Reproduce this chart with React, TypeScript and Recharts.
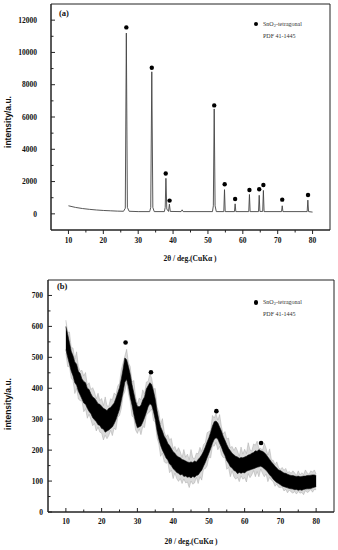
import React from "react";
import { ComposedChart, Line, Area, XAxis, YAxis, ReferenceArea } from "recharts";

// panel (a): crystalline SnO2 pattern
const aTheta = [10, 12, 14, 16, 18, 20, 22, 24, 25.8, 26.3, 26.6, 26.9, 27.4, 30, 33.3, 33.6, 33.9, 34.2, 34.6,
  37.5, 37.75, 37.95, 38.2, 38.7, 38.95, 39.2, 42.3, 42.6, 42.9, 51.3, 51.55, 51.8, 52.05, 52.4,
  54.55, 54.75, 54.95, 57.6, 57.8, 58.0, 61.7, 61.9, 62.1, 64.5, 64.7, 64.9, 65.7, 65.9, 66.1,
  71.1, 71.3, 71.5, 78.45, 78.65, 78.85, 80];
const aIntensity = [500, 400, 330, 280, 240, 210, 190, 170, 160, 350, 11200, 400, 160, 140, 140, 400, 8800, 400, 140,
  140, 400, 2200, 300, 150, 600, 150, 140, 250, 140, 140, 500, 6500, 500, 140,
  140, 1500, 140, 140, 620, 140, 140, 1200, 140, 140, 1150, 150, 150, 1450, 140,
  140, 500, 140, 140, 850, 140, 110];
const aPeakTheta = [26.6, 33.9, 37.9, 39.0, 51.8, 54.8, 57.8, 61.9, 64.7, 65.9, 71.3, 78.7];
const aPeakIntensity = [11550, 9050, 2500, 820, 6720, 1830, 920, 1480, 1520, 1790, 880, 1170];

// panel (b): nanocrystalline pattern, noisy band (core low/high + outer spikes)
const bTheta = [10, 10.5, 11, 11.5, 12, 12.5, 13, 13.5, 14, 14.5, 15, 15.5, 16, 16.5, 17, 17.5, 18, 18.5, 19, 19.5,
  20, 20.5, 21, 21.5, 22, 22.5, 23, 23.5, 24, 24.5, 25, 25.5, 26, 26.5, 27, 27.5, 28, 28.5, 29, 29.5,
  30, 30.5, 31, 31.5, 32, 32.5, 33, 33.5, 34, 34.5, 35, 35.5, 36, 36.5, 37, 37.5, 38, 38.5, 39, 39.5,
  40, 40.5, 41, 41.5, 42, 42.5, 43, 43.5, 44, 44.5, 45, 45.5, 46, 46.5, 47, 47.5, 48, 48.5, 49, 49.5,
  50, 50.5, 51, 51.5, 52, 52.5, 53, 53.5, 54, 54.5, 55, 55.5, 56, 56.5, 57, 57.5, 58, 58.5, 59, 59.5,
  60, 60.5, 61, 61.5, 62, 62.5, 63, 63.5, 64, 64.5, 65, 65.5, 66, 66.5, 67, 67.5, 68, 68.5, 69, 69.5,
  70, 70.5, 71, 71.5, 72, 72.5, 73, 73.5, 74, 74.5, 75, 75.5, 76, 76.5, 77, 77.5, 78, 78.5, 79, 79.5, 80];
const bLow = [525, 500, 478, 455, 440, 418, 410, 390, 378, 365, 352, 348, 335, 325, 318, 305, 298, 292, 282, 280,
  270, 268, 258, 262, 265, 270, 275, 285, 298, 315, 332, 360, 388, 420, 428, 405, 372, 345, 315, 290,
  272, 275, 278, 290, 305, 322, 340, 350, 345, 325, 298, 262, 235, 215, 200, 188, 175, 168, 155, 150,
  140, 135, 128, 125, 120, 122, 115, 116, 112, 114, 110, 115, 112, 118, 120, 128, 135, 148, 160, 175,
  190, 205, 222, 235, 240, 236, 222, 210, 194, 182, 166, 158, 146, 142, 134, 132, 124, 128, 125, 128,
  126, 132, 134, 136, 138, 140, 142, 145, 146, 148, 145, 140, 135, 128, 120, 114, 106, 100, 95, 92,
  88, 84, 82, 80, 78, 76, 75, 74, 72, 73, 70, 72, 70, 73, 74, 75, 75, 76, 78, 80, 82];
const bHigh = [600, 575, 548, 520, 505, 485, 478, 455, 448, 430, 422, 418, 400, 396, 382, 372, 368, 360, 350, 348,
  342, 335, 332, 328, 335, 338, 345, 352, 368, 385, 402, 430, 462, 498, 492, 470, 445, 412, 385, 358,
  342, 340, 345, 362, 372, 398, 408, 418, 412, 392, 365, 328, 298, 275, 262, 245, 236, 222, 215, 205,
  195, 190, 182, 178, 175, 170, 168, 165, 162, 160, 162, 160, 165, 162, 170, 176, 185, 196, 210, 226,
  240, 258, 278, 292, 294, 288, 275, 262, 245, 232, 218, 206, 198, 190, 185, 180, 178, 174, 176, 175,
  178, 180, 184, 186, 190, 192, 198, 196, 202, 198, 196, 192, 186, 178, 170, 162, 155, 148, 142, 136,
  134, 130, 126, 125, 122, 120, 118, 118, 116, 115, 116, 114, 115, 116, 116, 118, 118, 119, 120, 120, 118];
const bSpikeLow = [513, 470, 470, 433, 425, 383, 400, 365, 360, 359, 324, 334, 303, 316, 298, 279, 286, 262, 274, 258,
  255, 233, 248, 237, 247, 264, 247, 271, 266, 306, 312, 334, 376, 390, 420, 383, 357, 310, 305, 265,
  254, 269, 250, 276, 273, 313, 320, 324, 333, 295, 290, 240, 220, 180, 190, 163, 157, 162, 127, 136,
  108, 126, 108, 99, 108, 92, 107, 94, 97, 79, 100, 90, 94, 112, 92, 114, 103, 139, 140, 149,
  178, 175, 214, 213, 225, 201, 212, 185, 176, 176, 138, 144, 114, 133, 114, 106, 112, 98, 117, 106,
  111, 97, 124, 111, 120, 134, 114, 131, 114, 139, 125, 114, 123, 98, 112, 103, 98, 83, 90, 80,
  79, 81, 68, 73, 62, 71, 65, 61, 66, 58, 66, 61, 63, 56, 69, 63, 66, 73, 64, 73, 72];
const bSpikeHigh = [620, 581, 582, 532, 530, 494, 518, 470, 455, 458, 440, 451, 410, 418, 396, 402, 388, 366, 384, 360,
  367, 344, 372, 343, 342, 366, 363, 385, 378, 407, 416, 460, 482, 504, 526, 482, 470, 421, 425, 373,
  349, 368, 363, 395, 382, 420, 422, 448, 432, 398, 399, 340, 323, 284, 302, 260, 243, 250, 233, 238,
  205, 212, 196, 208, 195, 176, 202, 177, 187, 169, 202, 175, 172, 190, 188, 209, 195, 218, 224, 256,
  260, 264, 312, 304, 319, 297, 315, 277, 252, 260, 236, 239, 208, 212, 199, 210, 198, 180, 210, 187,
  203, 189, 224, 201, 197, 220, 216, 229, 205, 206, 200, 222, 206, 184, 204, 168, 167, 153, 162, 144,
  138, 144, 135, 141, 127, 131, 125, 133, 126, 118, 133, 120, 127, 121, 136, 126, 122, 133, 129, 136, 123];
const bPeakTheta = [26.7, 33.8, 52.1, 64.6];
const bPeakIntensity = [548, 452, 326, 223];

const xTicks = [10, 15, 20, 25, 30, 35, 40, 45, 50, 55, 60, 65, 70, 75, 80];
const aYTicks = [0, 1000, 2000, 3000, 4000, 5000, 6000, 7000, 8000, 9000, 10000, 11000, 12000];
const bYTicks = [0, 50, 100, 150, 200, 250, 300, 350, 400, 450, 500, 550, 600, 650, 700];

const aRows = aTheta.map((t, i) => ({ theta: t, v: aIntensity[i] }));
const aDots = aPeakTheta.map((t, i) => ({ theta: t, v: aPeakIntensity[i] }));
const bRows = bTheta.map((t, i) => ({ theta: t, lo: bLow[i], hi: bHigh[i], slo: bSpikeLow[i], shi: bSpikeHigh[i] }));
const bDots = bPeakTheta.map((t, i) => ({ theta: t, v: bPeakIntensity[i] }));

const INK = "#222";
const SERIF = "'Liberation Serif', 'Times New Roman', serif";

function BottomTick(props: any) {
  const { x, y, payload, outward, labelDy } = props;
  const major = payload.value % 10 === 0;
  const len = major ? 4 : 2.5;
  return (
    <g>
      <line x1={x} x2={x} y1={y} y2={outward ? y + len : y - len} stroke={INK} strokeWidth={1} />
      {major && (
        <text x={x} y={y + labelDy} textAnchor="middle" fontFamily={SERIF} fontWeight={700} fontSize={7.5} fill="#111">
          {payload.value}
        </text>
      )}
    </g>
  );
}

function LeftTick(props: any) {
  const { x, y, payload, step, gap } = props;
  const major = payload.value % step === 0;
  const len = major ? 4 : 2.5;
  return (
    <g>
      <line x1={x} x2={x + len} y1={y} y2={y} stroke={INK} strokeWidth={1} />
      {major && (
        <text x={x - gap} y={y + 2.7} textAnchor="end" fontFamily={SERIF} fontWeight={700} fontSize={7.5} fill="#111">
          {payload.value}
        </text>
      )}
    </g>
  );
}

const overlay = (left: number, top: number, extra: React.CSSProperties = {}): React.CSSProperties => ({
  position: "absolute", left, top, whiteSpace: "nowrap", lineHeight: 1, ...extra,
});

function Legend({ top }: { top: number }) {
  return (
    <>
      <div style={overlay(253.8, top - 2.2, { width: 4.4, height: 4.4, borderRadius: "50%", background: "#000" })} />
      <div style={overlay(263, top - 3.5, { fontFamily: SERIF, fontSize: 6, color: "#333" })}>
        SnO<sub style={{ fontSize: 4.5, verticalAlign: "-1px" }}>2</sub>-tetragonal
      </div>
      <div style={overlay(263, top + 8.5, { fontFamily: SERIF, fontSize: 6, color: "#333" })}>PDF 41-1445</div>
    </>
  );
}

export default function App() {
  const yTitle: React.CSSProperties = {
    fontFamily: "'Liberation Sans', Arial, sans-serif", fontWeight: 700, fontSize: 8.5, color: "#111",
    transform: "translate(-50%, -50%) rotate(-90deg)",
  };
  const xTitle: React.CSSProperties = {
    fontFamily: SERIF, fontWeight: 700, fontSize: 7.5, color: "#111", transform: "translate(-50%, -50%)",
  };
  return (
    <div style={{ position: "absolute", left: 0, top: 0, width: 338, height: 550, background: "#fff", overflow: "hidden" }}>
      <div style={{ position: "absolute", left: 0, top: 0 }}>
        <ComposedChart width={338} height={270} margin={{ top: 4, right: 8, bottom: 0, left: 0 }}>
          <XAxis dataKey="theta" type="number" domain={[5, 85]} ticks={xTicks} interval={0} height={40}
            axisLine={{ stroke: INK }} tickLine={false} tickSize={0} tickMargin={0}
            tick={(p: any) => <BottomTick {...p} outward labelDy={13} />} />
          <YAxis type="number" domain={[-1000, 13000]} ticks={aYTicks} interval={0} width={51}
            axisLine={{ stroke: INK }} tickLine={false} tickSize={0} tickMargin={0}
            tick={(p: any) => <LeftTick {...p} step={2000} gap={14} />} />
          <ReferenceArea x1={5} x2={85} y1={-1000} y2={13000} fill="none" stroke={INK} strokeWidth={1} />
          <Line data={aRows} dataKey="v" type="linear" stroke="#444" strokeWidth={0.9} dot={false} isAnimationActive={false} />
          <Line data={aDots} dataKey="v" stroke="none" dot={{ r: 2.2, fill: "#000", stroke: "none" }} isAnimationActive={false} />
        </ComposedChart>
      </div>
      <div style={{ position: "absolute", left: 0, top: 270 }}>
        <ComposedChart width={338} height={280} margin={{ top: 10, right: 4, bottom: 0, left: 0 }}>
          <XAxis dataKey="theta" type="number" domain={[5, 85]} ticks={xTicks} interval={0} height={38}
            axisLine={{ stroke: INK }} tickLine={false} tickSize={0} tickMargin={0}
            tick={(p: any) => <BottomTick {...p} outward={false} labelDy={12} />} />
          <YAxis type="number" domain={[0, 750]} ticks={bYTicks} interval={0} width={48}
            axisLine={{ stroke: INK }} tickLine={false} tickSize={0} tickMargin={0}
            tick={(p: any) => <LeftTick {...p} step={100} gap={5} />} />
          <ReferenceArea x1={5} x2={85} y1={0} y2={750} fill="none" stroke={INK} strokeWidth={1} />
          <Area data={bRows} dataKey={(d: any) => [d.slo, d.shi]} type="linear" stroke="#999" strokeWidth={0.4}
            fill="#bbb" fillOpacity={0.55} isAnimationActive={false} />
          <Area data={bRows} dataKey={(d: any) => [d.lo, d.hi]} type="linear" stroke="#111" strokeWidth={0.6}
            fill="#000" fillOpacity={1} isAnimationActive={false} />
          <Line data={bDots} dataKey="v" stroke="none" dot={{ r: 2.3, fill: "#000", stroke: "none" }} isAnimationActive={false} />
        </ComposedChart>
      </div>

      <div style={overlay(59, 9, { fontFamily: SERIF, fontWeight: 700, fontSize: 8.5, color: "#111" })}>(a)</div>
      <div style={overlay(57, 282, { fontFamily: SERIF, fontWeight: 700, fontSize: 8.5, color: "#111" })}>(b)</div>
      <Legend top={24} />
      <Legend top={302.5} />

      <div style={overlay(8, 122, yTitle)}>intensity/a.u.</div>
      <div style={overlay(8, 404, yTitle)}>intensity/a.u.</div>
      <div style={overlay(190, 259, xTitle)}>2θ / deg.(CuKα )</div>
      <div style={overlay(191, 542, xTitle)}>2θ / deg.(CuKα )</div>
    </div>
  );
}
